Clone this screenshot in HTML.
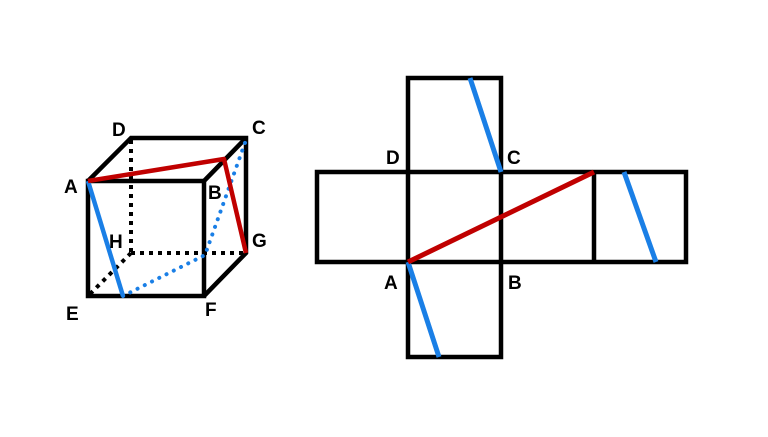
<!DOCTYPE html>
<html><head><meta charset="utf-8"><style>
html,body{margin:0;padding:0;background:#fff}
svg text{font-family:"Liberation Sans",sans-serif;font-weight:bold;font-size:19px;fill:#000}
</style></head><body>
<svg width="768" height="432" viewBox="0 0 768 432" xmlns="http://www.w3.org/2000/svg">
<rect width="768" height="432" fill="#fff"/>
<!-- cube hidden edges -->
<g stroke="#000" stroke-width="4" stroke-dasharray="4,5" fill="none">
<line x1="131" y1="140" x2="131" y2="253"/>
<line x1="131" y1="253" x2="246" y2="253"/>
<line x1="131" y1="253" x2="88" y2="296"/>
</g>
<g stroke="#000" stroke-width="4.5" fill="none" stroke-linejoin="miter">
<rect x="88" y="181" width="116" height="115"/>
<polyline points="88,181 131,138 246,138 246,253 204,296"/>
<line x1="204" y1="181" x2="246" y2="138"/>
</g>
<polyline points="123,296 205,255 246,140" fill="none" stroke="#1a7fe6" stroke-width="4" stroke-dasharray="0.1,8" stroke-linecap="round"/>
<line x1="88" y1="181" x2="123" y2="296" stroke="#1a7fe6" stroke-width="4.5"/>
<polyline points="88,181 224,159 246,253" fill="none" stroke="#c00000" stroke-width="4.5" stroke-linejoin="round"/>
<text x="112" y="136">D</text>
<text x="252" y="134">C</text>
<text x="64" y="193">A</text>
<text x="208" y="199">B</text>
<text x="109" y="248">H</text>
<text x="252" y="247">G</text>
<text x="66" y="320">E</text>
<text x="205" y="316">F</text>
<!-- net -->
<g stroke="#000" stroke-width="4.5" fill="none">
<rect x="408" y="78" width="93" height="279"/>
<rect x="317" y="172" width="369" height="90"/>
<line x1="594" y1="172" x2="594" y2="262"/>
</g>
<g stroke="#1a7fe6" stroke-width="5">
<line x1="470" y1="78" x2="501" y2="172"/>
<line x1="624" y1="172" x2="656" y2="262"/>
<line x1="408" y1="262" x2="439" y2="357"/>
</g>
<line x1="408" y1="262" x2="594" y2="172" stroke="#c00000" stroke-width="5"/>
<text x="386" y="164">D</text>
<text x="507" y="164">C</text>
<text x="384" y="289">A</text>
<text x="508" y="289">B</text>
</svg>
</body></html>
